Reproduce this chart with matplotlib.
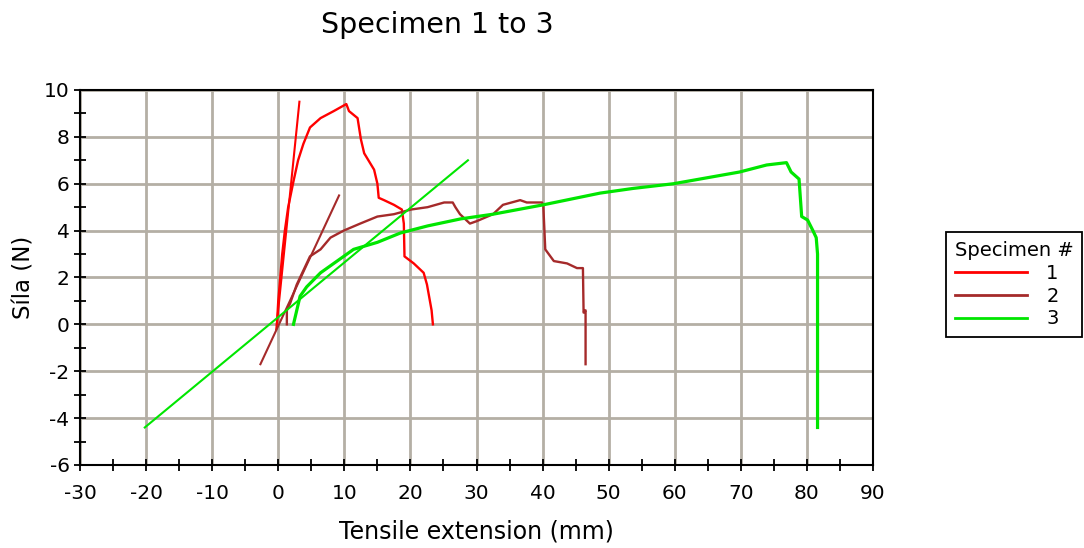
import numpy as np
import matplotlib
matplotlib.use('Agg')
import matplotlib.pyplot as plt
from matplotlib.ticker import MultipleLocator

plt.rcParams['font.family'] = ['DejaVu Sans']
plt.rcParams['axes.unicode_minus'] = False

# Specimen 1 (red) - force vs extension
s1_x = [-0.2, 0.0, 0.3, 0.6, 1.0, 1.5, 2.3, 3.0, 3.8, 4.8, 6.4, 8.4, 10.3, 10.7, 12.0, 12.5, 13.0,
        14.5, 15.0, 15.2, 16.0, 17.5, 18.7, 19.0, 19.1, 20.5, 22.0, 22.5, 23.2, 23.4]
s1_y = [0.0, 1.0, 2.0, 3.0, 4.0, 5.0, 6.1, 7.0, 7.7, 8.4, 8.8, 9.1, 9.4, 9.1, 8.8, 7.9, 7.3,
        6.6, 6.0, 5.4, 5.3, 5.1, 4.9, 4.3, 2.9, 2.6, 2.2, 1.7, 0.6, 0.0]
s1_fit_x = [-0.3, 3.2]
s1_fit_y = [-0.2, 9.5]

# Specimen 2 (brown)
s2_x = [1.3, 1.3, 1.8, 2.8, 3.8, 4.8, 6.4, 7.9, 9.9, 12.4, 15.0, 17.5, 20.1, 22.6,
        25.1, 26.4, 26.8, 27.5, 29.0, 30.0, 32.5, 34.0, 36.6, 37.6, 39.9, 40.1,
        40.4, 41.7, 43.7, 45.2, 46.1, 46.2, 46.5, 46.5]
s2_y = [0.0, 0.6, 0.9, 1.7, 2.3, 2.9, 3.2, 3.7, 4.0, 4.3, 4.6, 4.7, 4.9, 5.0,
        5.2, 5.2, 5.0, 4.7, 4.3, 4.4, 4.7, 5.1, 5.3, 5.2, 5.2, 5.1,
        3.2, 2.7, 2.6, 2.4, 2.4, 0.5, 0.6, -1.7]
s2_fit_x = [-2.7, 9.2]
s2_fit_y = [-1.7, 5.5]

# Specimen 3 (green)
s3_x = [2.3, 2.8, 3.3, 4.3, 6.4, 8.9, 11.4, 15.0, 18.5, 22.6, 27.6, 32.5, 40.1,
        48.7, 53.7, 59.8, 63.8, 69.8, 73.9, 76.9, 77.6, 78.8, 79.2, 80.1, 80.9,
        81.4, 81.6, 81.6]
s3_y = [0.0, 0.6, 1.2, 1.6, 2.2, 2.7, 3.2, 3.5, 3.9, 4.2, 4.5, 4.7, 5.1,
        5.6, 5.8, 6.0, 6.2, 6.5, 6.8, 6.9, 6.5, 6.2, 4.6, 4.45, 4.0,
        3.7, 3.0, -4.4]
s3_fit_x = [-20.2, 28.7]
s3_fit_y = [-4.4, 7.0]

labels = ['1', '2', '3']
colors = ['#ff0000', '#a52a2a', '#00e600']

fig = plt.figure(figsize=(10.84, 5.48), dpi=100)
ax = fig.add_axes([0.0738, 0.1515, 0.7316, 0.6843])

curves = [(s1_x, s1_y, s1_fit_x, s1_fit_y),
          (s2_x, s2_y, s2_fit_x, s2_fit_y),
          (s3_x, s3_y, s3_fit_x, s3_fit_y)]
for (x, y, fx, fy), c in zip(curves, colors):
    lw = 2.3 if c == '#00e600' else 1.7
    ax.plot(x, y, color=c, lw=lw)
    ax.plot(fx, fy, color=c, lw=1.5)

ax.set_xlim(-30, 90)
ax.set_ylim(-6, 10)
ax.xaxis.set_major_locator(MultipleLocator(10))
ax.xaxis.set_minor_locator(MultipleLocator(5))
ax.yaxis.set_major_locator(MultipleLocator(2))
ax.yaxis.set_minor_locator(MultipleLocator(1))
ax.grid(True, which='major', color='#b4afa5', lw=2)
ax.set_axisbelow(True)
ax.tick_params(which='both', direction='inout', width=1.3, color='black',
               labelsize=14.5, length=9)
ax.tick_params(axis='x', pad=9)
ax.tick_params(axis='y', pad=3)
for sp in ax.spines.values():
    sp.set_linewidth(1.5)

ax.set_xlabel('Tensile extension (mm)', fontsize=17, labelpad=12)
ax.set_ylabel('Síla (N)', fontsize=16.5, labelpad=6)
fig.text(437 / 1084, 1 - 25 / 548, 'Specimen 1 to 3', fontsize=20.5,
         ha='center', va='center')

leg = fig.legend(handles=[plt.Line2D([], [], color=c, lw=2) for c in colors],
                 labels=labels, title='Specimen #', loc='upper left',
                 bbox_to_anchor=(946 / 1084, 1 - 232 / 548), fontsize=14,
                 title_fontsize=14, fancybox=False, framealpha=1,
                 edgecolor='black', handlelength=3.7, handletextpad=1.0,
                 labelspacing=0.2, borderpad=0.45, borderaxespad=0,
                 alignment='left')
leg.get_frame().set_linewidth(1.3)

fig.savefig('out.png', dpi=100)
